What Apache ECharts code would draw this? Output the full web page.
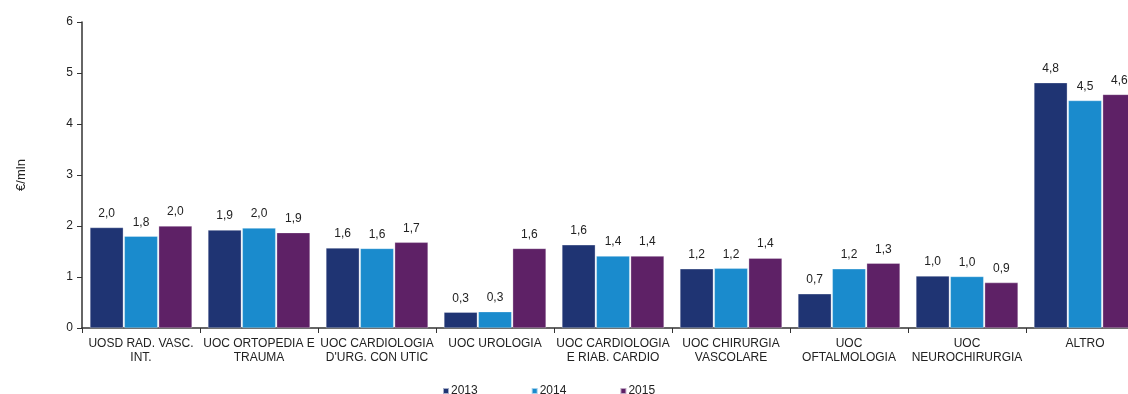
<!DOCTYPE html>
<html><head><meta charset="utf-8">
<script src="https://cdn.jsdelivr.net/npm/echarts@6/dist/echarts.min.js"></script>
<style>html,body{margin:0;padding:0;background:#fff}#c{width:1128px;height:394px}</style>
</head><body><div id="c"></div>
<script>
const categories = ["UOSD RAD. VASC.\nINT.", "UOC ORTOPEDIA E\nTRAUMA", "UOC CARDIOLOGIA\nD'URG. CON UTIC", "UOC UROLOGIA", "UOC CARDIOLOGIA\nE RIAB. CARDIO", "UOC CHIRURGIA\nVASCOLARE", "UOC\nOFTALMOLOGIA", "UOC\nNEUROCHIRURGIA", "ALTRO"];
const seriesNames = ["2013", "2014", "2015"];
const values2013 = [1.97, 1.92, 1.57, 0.31, 1.63, 1.16, 0.67, 1.02, 4.81];
const values2014 = [1.80, 1.96, 1.56, 0.32, 1.41, 1.17, 1.16, 1.01, 4.46];
const values2015 = [2.00, 1.87, 1.68, 1.56, 1.41, 1.37, 1.27, 0.89, 4.58];
const yTicks = [0, 1, 2, 3, 4, 5, 6];
const colors = ["#1F3473", "#1A8BCD", "#5E2166"];
const font = "Liberation Sans, Arial, sans-serif";
const chart = echarts.init(document.getElementById('c'), null, {renderer: 'canvas'});
const data = [values2013, values2014, values2015];
chart.setOption({
  animation: false,
  textStyle: {fontFamily: font},
  grid: {left: 82, width: 1062, top: 22, height: 306, containLabel: false, outerBoundsMode: 'none'},
  legend: {
    top: 380, left: 437, icon: 'rect', itemWidth: 6, itemHeight: 6, itemGap: 53,
    textStyle: {fontSize: 12, color: '#222', fontFamily: font, padding: [0, 0, 0, -3]},
    data: seriesNames
  },
  xAxis: {
    type: 'category', data: categories,
    axisLine: {lineStyle: {color: '#333', width: 1.5}},
    axisTick: {show: true, length: 5, lineStyle: {color: '#333'}},
    axisLabel: {interval: 0, color: '#222', fontSize: 12, lineHeight: 14, margin: 9, fontFamily: font}
  },
  yAxis: {
    type: 'value', min: yTicks[0], max: yTicks[yTicks.length - 1], interval: 1,
    name: '€/mln', nameLocation: 'middle', nameRotate: 90, nameGap: 54,
    nameTextStyle: {fontSize: 13, color: '#222', fontFamily: font},
    axisLine: {show: true, lineStyle: {color: '#333', width: 1.5}},
    axisTick: {show: true, length: 5, lineStyle: {color: '#333'}},
    axisLabel: {color: '#222', fontSize: 12, margin: 9, fontFamily: font},
    splitLine: {show: false}
  },
  series: seriesNames.map((n, i) => ({
    name: n, type: 'bar', data: data[i],
    barGap: '3%', barCategoryGap: '13.5%',
    itemStyle: {color: colors[i], borderColor: 'rgba(255,255,255,0.6)', borderWidth: 0.5},
    label: {show: true, position: 'top', distance: 8, color: '#222', fontSize: 12, fontFamily: font,
      formatter: p => p.value.toFixed(1).replace('.', ',')}
  }))
});
</script></body></html>
